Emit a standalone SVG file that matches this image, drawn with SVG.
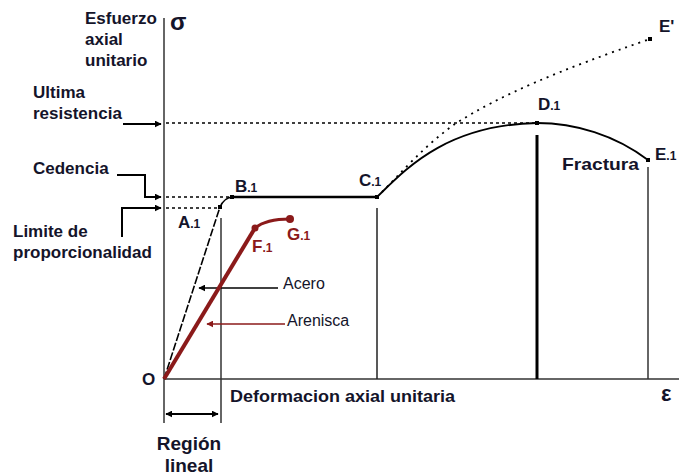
<svg xmlns="http://www.w3.org/2000/svg" width="679" height="476" viewBox="0 0 679 476">
<defs>
<style>
.t{font-family:"Liberation Sans",Arial,sans-serif;font-weight:bold;font-size:17px;fill:#14142a}
.s{font-size:12px}
.r{fill:#8b1a1a}
.n{font-family:"Liberation Sans",Arial,sans-serif;font-size:16px;fill:#14142a}
.ax{stroke:#333;stroke-width:1.5;fill:none}
.k{stroke:#000;fill:none}
.dot{stroke:#000;stroke-width:1.3;stroke-dasharray:3 3;fill:none}
</style>
<marker id="ar" viewBox="0 0 10 10" refX="9" refY="5" markerWidth="7" markerHeight="7" orient="auto-start-reverse" markerUnits="userSpaceOnUse"><path d="M0,0 L10,5 L0,10 z" fill="#000"/></marker>
<marker id="arr" viewBox="0 0 10 10" refX="9" refY="5" markerWidth="7" markerHeight="7" orient="auto-start-reverse" markerUnits="userSpaceOnUse"><path d="M0,0 L10,5 L0,10 z" fill="#8b1a1a"/></marker>
</defs>
<rect width="679" height="476" fill="#fff"/>

<g id="axes">
<line class="ax" x1="164" y1="18" x2="164" y2="423"/>
<line class="ax" x1="164" y1="379" x2="679" y2="379"/>
<line class="ax" x1="221" y1="218" x2="221" y2="423"/>
<line stroke="#222" stroke-width="1.5" x1="377" y1="208" x2="377" y2="379"/>
<line stroke="#000" stroke-width="3" x1="537" y1="135" x2="537" y2="379"/>
<line stroke="#333" stroke-width="1.5" x1="648" y1="167" x2="648" y2="379"/>
<text class="t" x="170" y="30" style="font-size:24px">σ</text>
<text class="t" x="661" y="401" style="font-size:22px">ε</text>
<text class="t" x="142" y="385">O</text>
</g>

<g id="guides">
<line class="dot" x1="166" y1="123" x2="537" y2="123"/>
<line class="dot" x1="166" y1="197" x2="232" y2="197" stroke-width="2"/>
<line class="dot" x1="166" y1="208" x2="220" y2="208" stroke-dasharray="4 3"/>
</g>

<g id="connectors">
<path class="k" stroke-width="2" d="M123,124 H161" marker-end="url(#ar)"/>
<path class="k" stroke-width="2" d="M117,175 H145 V197 H161" marker-end="url(#ar)"/>
<path class="k" stroke-width="2" d="M122,237 V208 H161" marker-end="url(#ar)"/>
<path class="k" stroke-width="1.5" d="M278,288 H199" marker-end="url(#ar)"/>
<path stroke="#8b1a1a" stroke-width="1.5" fill="none" d="M285,324 H207" marker-end="url(#arr)"/>
<path class="k" stroke-width="2" d="M166,414 H218" marker-start="url(#ar)" marker-end="url(#ar)"/>
</g>

<g id="steel">
<path class="k" stroke-width="1.6" stroke-dasharray="8 2" d="M164,379 L220,207"/>
<path class="k" stroke-width="1.5" d="M220,207 Q224,198 232,197"/>
<line stroke="#000" stroke-width="2.5" x1="232" y1="197" x2="377" y2="197"/>
<path class="k" stroke-width="1.8" d="M377,197 C405,170 445,125 537,123"/>
<path class="k" stroke-width="1.8" d="M537,123 C575,123 615,135 648,160"/>
<path class="k" stroke-width="1.8" stroke-dasharray="2 5" d="M382,192 C400,174 425,145 455,124 C500,95 560,70 650,39"/>
<rect x="218" y="205" width="4" height="4"/>
<rect x="230" y="195" width="4" height="4"/>
<rect x="375" y="195" width="4" height="4"/>
<rect x="535" y="121" width="4" height="4"/>
<rect x="646" y="158" width="4" height="4"/>
<rect x="648" y="37" width="4" height="4"/>
</g>

<g id="sandstone">
<path stroke="#8b1a1a" stroke-width="4" fill="none" d="M164,379 L255,228"/>
<path stroke="#8b1a1a" stroke-width="3" fill="none" d="M255,228 Q266,219 290,219"/>
<circle cx="255" cy="228" r="3.5" fill="#8b1a1a"/>
<circle cx="290" cy="219" r="4" fill="#8b1a1a"/>
</g>

<g id="labels">
<text class="t" x="85" y="24">Esfuerzo</text>
<text class="t" x="85" y="45">axial</text>
<text class="t" x="85" y="66">unitario</text>
<text class="t" x="33" y="98">Ultima</text>
<text class="t" x="33" y="119">resistencia</text>
<text class="t" x="33" y="174">Cedencia</text>
<text class="t" x="13" y="237">Limite de</text>
<text class="t" x="13" y="258">proporcionalidad</text>
<text class="t" x="178" y="228">A<tspan class="s">.1</tspan></text>
<text class="t" x="235" y="192">B<tspan class="s">.1</tspan></text>
<text class="t" x="359" y="186">C<tspan class="s">.1</tspan></text>
<text class="t" x="538" y="110">D<tspan class="s">.1</tspan></text>
<text class="t" x="655" y="160">E<tspan class="s">.1</tspan></text>
<text class="t" x="659" y="32">E'</text>
<text class="t" x="562" y="170" textLength="77" lengthAdjust="spacingAndGlyphs">Fractura</text>
<text class="t r" x="252" y="252">F<tspan class="s">.1</tspan></text>
<text class="t r" x="287" y="240">G<tspan class="s">.1</tspan></text>
<text class="n" x="283" y="289">Acero</text>
<text class="n r" x="287" y="326">Arenisca</text>
<text class="t" x="230" y="402" textLength="225" lengthAdjust="spacingAndGlyphs">Deformacion axial unitaria</text>
<text class="t" x="189" y="450" style="font-size:19px" text-anchor="middle">Región</text>
<text class="t" x="189" y="472" style="font-size:19px" text-anchor="middle">lineal</text>
</g>
</svg>
